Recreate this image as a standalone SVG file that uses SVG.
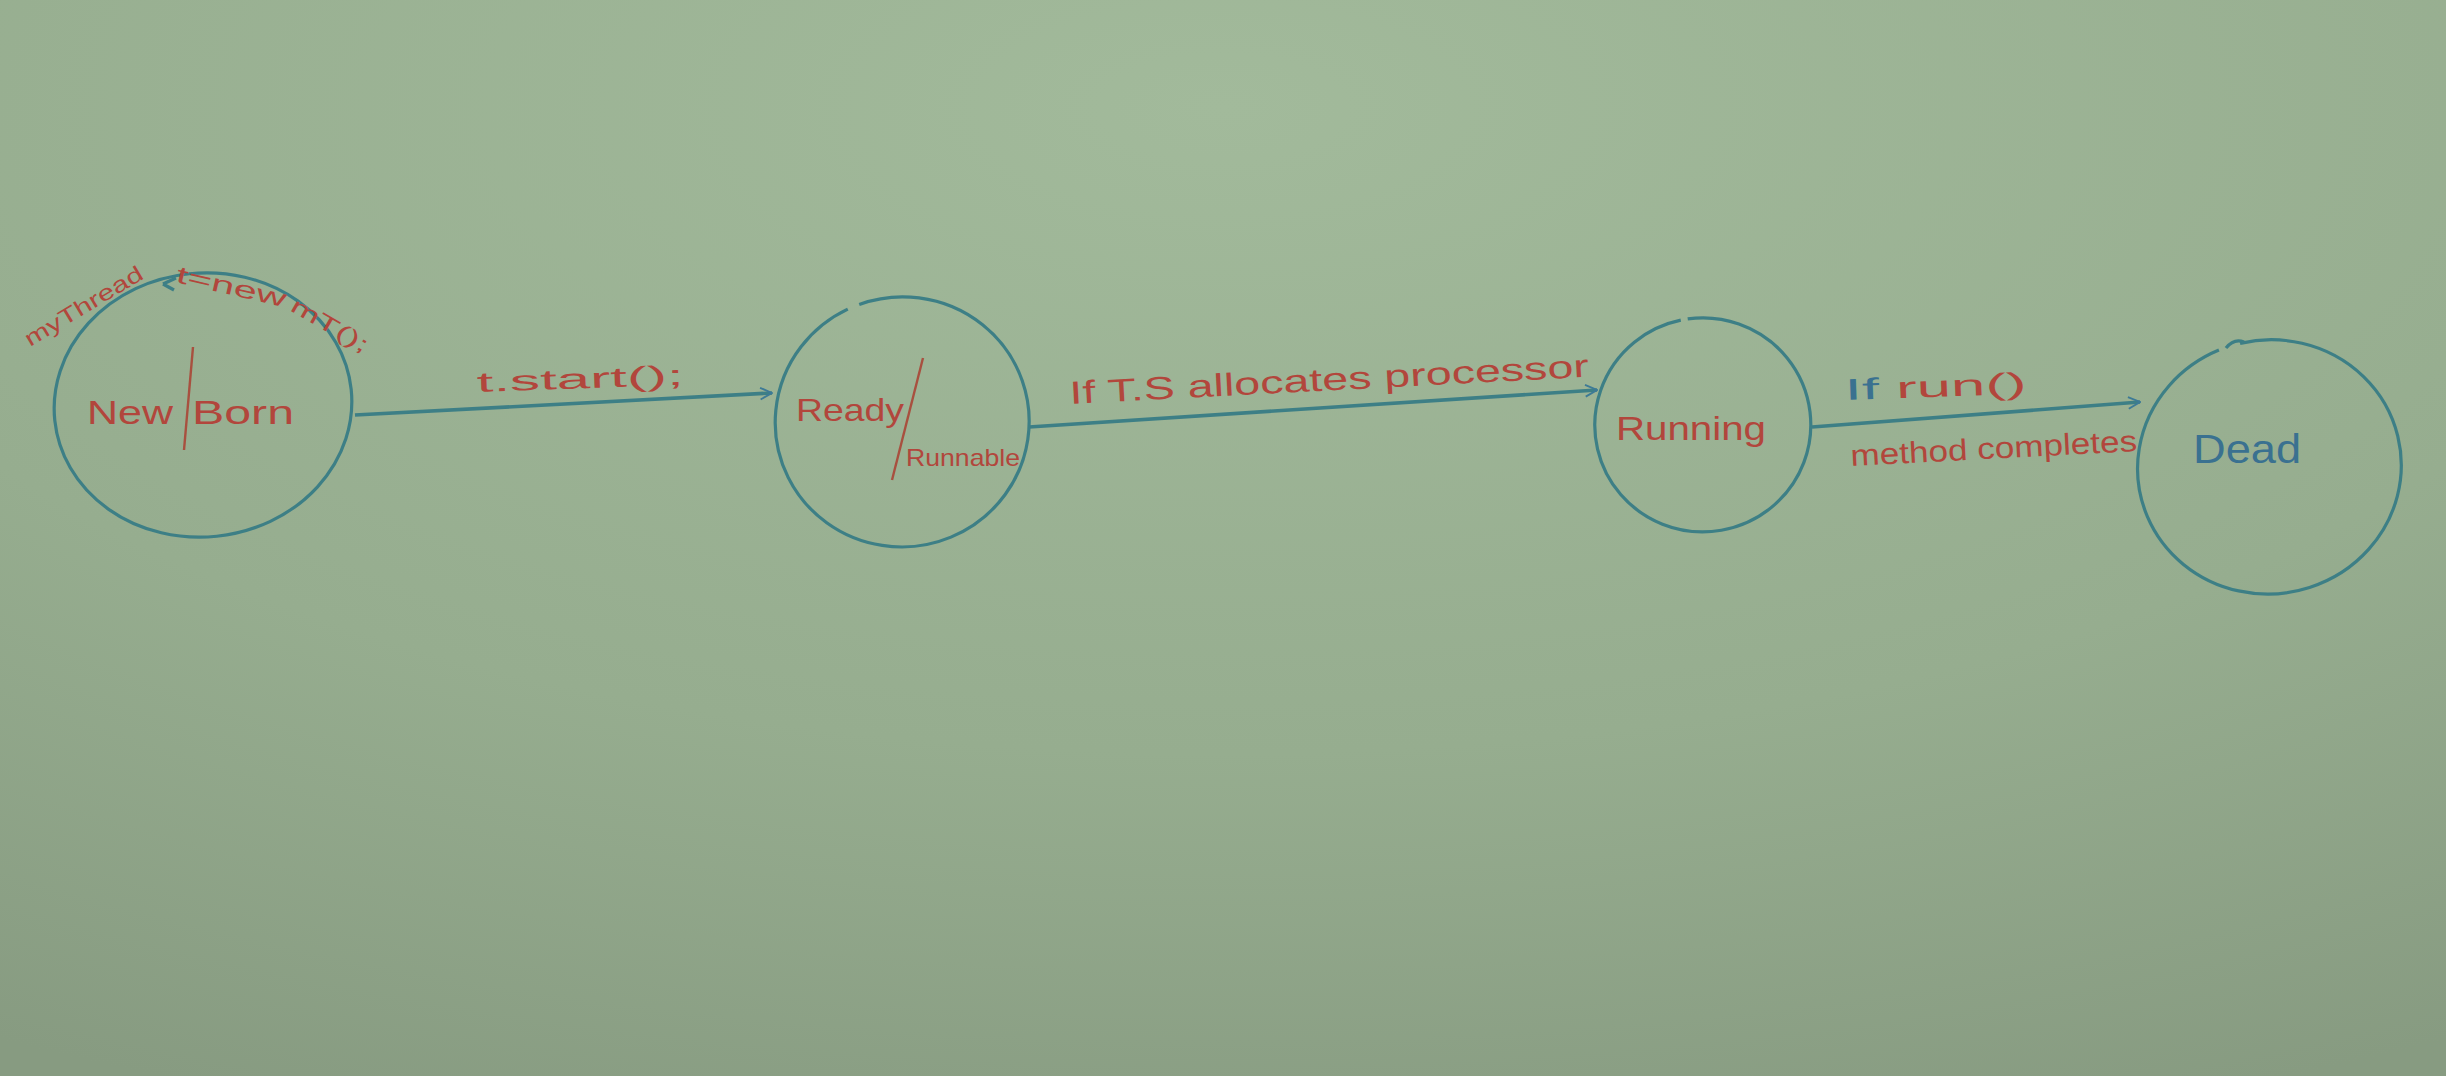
<svg xmlns="http://www.w3.org/2000/svg" width="2446" height="1076" viewBox="0 0 2446 1076">
<style>
.node{fill:none;stroke:#3d7f86;stroke-width:3.2}
.edge{fill:none;stroke:#3d7f86;stroke-width:3.6}
.lbl{font-family:"Liberation Sans",Arial,sans-serif;fill:#b2463c}
.blue{fill:#3a7190}
.slash{stroke:#a8503f;stroke-width:2.4}
</style>
<defs>
<radialGradient id="bg" cx="0.5" cy="0.1" r="1" gradientUnits="objectBoundingBox">
<stop offset="0" stop-color="#a2ba9b"/>
<stop offset="0.6" stop-color="#96ad8f"/>
<stop offset="1" stop-color="#879b81"/>
</radialGradient>
<marker id="arr" viewBox="0 0 12 12" refX="11" refY="6" markerWidth="14" markerHeight="14" markerUnits="userSpaceOnUse" orient="auto">
<path d="M1,1 L11,6 L1,11" fill="none" stroke="#3d7a96" stroke-width="1.6"/>
</marker>
</defs>
<rect width="2446" height="1076" fill="url(#bg)"/>

<g id="connectors">
<path class="edge" d="M355,415 L772,393" marker-end="url(#arr)"/>
<path class="edge" d="M1029,427 L1597,390" marker-end="url(#arr)"/>
<path class="edge" d="M1812,427 L2140,402" marker-end="url(#arr)"/>
<text class="lbl" x="477" y="392" font-size="28" textLength="207" lengthAdjust="spacingAndGlyphs" transform="rotate(-2 477 392)">t.start();</text>
<text class="lbl" x="1070" y="404" font-size="32" textLength="520" lengthAdjust="spacingAndGlyphs" transform="rotate(-3 1070 404)">If  T.S  allocates  processor</text>
<text class="lbl" x="1845" y="400" font-size="30" textLength="182" lengthAdjust="spacingAndGlyphs" transform="rotate(-2 1845 400)"><tspan class="blue">If</tspan>  run()</text>
<text class="lbl" x="1851" y="466" font-size="30" textLength="287" lengthAdjust="spacingAndGlyphs" transform="rotate(-3 1851 466)">method  completes</text>
</g>

<g id="node-new">
<ellipse class="node" cx="203" cy="405" rx="149" ry="132" transform="rotate(-6 203 405)"/>
<path class="node" d="M163,284 L176,278 M163,284 L174,290"/>
<line class="slash" x1="193" y1="347" x2="184" y2="450"/>
<text class="lbl" x="87" y="424" font-size="34" textLength="86" lengthAdjust="spacingAndGlyphs">New</text>
<text class="lbl" x="192" y="424" font-size="34" textLength="102" lengthAdjust="spacingAndGlyphs">Born</text>
<text class="lbl" x="30" y="347" font-size="22" textLength="134" lengthAdjust="spacingAndGlyphs" transform="rotate(-31 30 347)">myThread</text>
<text class="lbl" x="175" y="282" font-size="24" textLength="112" lengthAdjust="spacingAndGlyphs" transform="rotate(13 175 282)">t=new</text>
<text class="lbl" x="289" y="310" font-size="22" textLength="86" lengthAdjust="spacingAndGlyphs" transform="rotate(30 289 310)">mT();</text>
</g>

<g id="node-ready">
<path class="node" d="M876,299.6 A127 125 0 1 1 864,302.7" transform="rotate(-8 902 422)"/>
<line class="slash" x1="923" y1="358" x2="892" y2="480"/>
<text class="lbl" x="796" y="421" font-size="32" textLength="108" lengthAdjust="spacingAndGlyphs">Ready</text>
<text class="lbl" x="906" y="466" font-size="24" textLength="114" lengthAdjust="spacingAndGlyphs">Runnable</text>
</g>

<g id="node-running">
<path class="node" d="M1697,318.1 A108 107 0 1 1 1690,318.7" transform="rotate(-5 1702 425)"/>
<text class="lbl" x="1616" y="440" font-size="34" textLength="150" lengthAdjust="spacingAndGlyphs">Running</text>
</g>

<g id="node-dead">
<path class="node" d="M2262,340 A132 127 0 1 1 2240,343" transform="rotate(-10 2270 467)"/>
<path class="node" d="M2226,348 Q2234,338 2244,342"/>
<text class="lbl blue" x="2193" y="463" font-size="40" textLength="108" lengthAdjust="spacingAndGlyphs">Dead</text>
</g>
</svg>
